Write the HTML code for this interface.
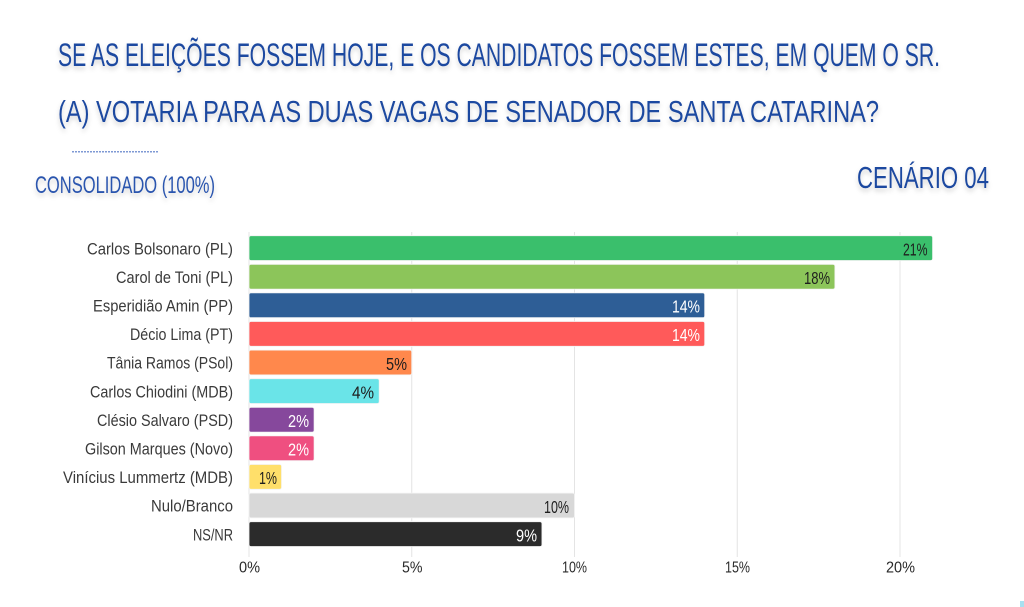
<!DOCTYPE html>
<html><head><meta charset="utf-8"><style>
html,body{margin:0;padding:0;background:#fff;width:1024px;height:607px;overflow:hidden}
svg{display:block}
</style></head><body>
<svg width="1024" height="607" viewBox="0 0 1024 607" xmlns="http://www.w3.org/2000/svg" font-family="'Liberation Sans', sans-serif">
<defs>
<filter id="sh" x="-5%" y="-40%" width="110%" height="180%">
<feDropShadow dx="0" dy="3" stdDeviation="2.5" flood-color="#000" flood-opacity="0.18"/>
</filter>
</defs>
<rect width="1024" height="607" fill="#fff"/>
<g fill="#1f48a0" filter="url(#sh)">
<text x="58" y="66" font-size="32" textLength="882" lengthAdjust="spacingAndGlyphs">SE AS ELEIÇÕES FOSSEM HOJE, E OS CANDIDATOS FOSSEM ESTES, EM QUEM O SR.</text>
<text x="58" y="122" font-size="31" textLength="821" lengthAdjust="spacingAndGlyphs">(A) VOTARIA PARA AS DUAS VAGAS DE SENADOR DE SANTA CATARINA?</text>
<text x="35" y="193" font-size="24" fill="#2a54ae" textLength="180" lengthAdjust="spacingAndGlyphs">CONSOLIDADO (100%)</text>
<text x="857" y="188" font-size="31" textLength="132" lengthAdjust="spacingAndGlyphs">CENÁRIO 04</text>
</g>
<line x1="72" y1="151.7" x2="158" y2="151.7" stroke="#7f9ad4" stroke-width="1.5" stroke-dasharray="2,1"/>

<!-- gridlines -->
<g stroke="#e4e4e4" stroke-width="1">
<line x1="249" y1="232" x2="249" y2="557"/>
<line x1="411.75" y1="232" x2="411.75" y2="557"/>
<line x1="574.5" y1="232" x2="574.5" y2="557"/>
<line x1="737.25" y1="232" x2="737.25" y2="557"/>
<line x1="900" y1="232" x2="900" y2="557"/>
</g>

<!-- bars -->
<g stroke="#f4f4f4" stroke-width="0.8">
<rect x="249" y="235.7" width="683.6" height="24.8" rx="2" fill="#3abf6c"/>
<rect x="249" y="264.3" width="585.9" height="24.8" rx="2" fill="#8cc55a"/>
<rect x="249" y="292.9" width="455.7" height="24.8" rx="2" fill="#2e5e96"/>
<rect x="249" y="321.5" width="455.7" height="24.8" rx="2" fill="#ff5a5a"/>
<rect x="249" y="350.1" width="162.75" height="24.8" rx="2" fill="#ff884c"/>
<rect x="249" y="378.7" width="130.2" height="24.8" rx="2" fill="#6ae4e8"/>
<rect x="249" y="407.3" width="65.1" height="24.8" rx="2" fill="#86489c"/>
<rect x="249" y="435.9" width="65.1" height="24.8" rx="2" fill="#ef4f80"/>
<rect x="249" y="464.5" width="32.55" height="24.8" rx="2" fill="#ffdf6a"/>
<rect x="249" y="493.1" width="325.5" height="24.8" rx="2" fill="#d8d8d8"/>
<rect x="249" y="521.7" width="292.95" height="24.8" rx="2" fill="#2b2b2b"/>
</g>

<!-- category labels -->
<g fill="#3a3a3a" font-size="16.5" text-anchor="start">
<text x="87" y="254.3" textLength="146" lengthAdjust="spacingAndGlyphs">Carlos Bolsonaro (PL)</text>
<text x="116" y="282.9" textLength="117" lengthAdjust="spacingAndGlyphs">Carol de Toni (PL)</text>
<text x="93" y="311.5" textLength="140" lengthAdjust="spacingAndGlyphs">Esperidião Amin (PP)</text>
<text x="130" y="340.1" textLength="103" lengthAdjust="spacingAndGlyphs">Décio Lima (PT)</text>
<text x="107" y="368.7" textLength="126" lengthAdjust="spacingAndGlyphs">Tânia Ramos (PSol)</text>
<text x="90" y="397.3" textLength="143" lengthAdjust="spacingAndGlyphs">Carlos Chiodini (MDB)</text>
<text x="97" y="425.9" textLength="136" lengthAdjust="spacingAndGlyphs">Clésio Salvaro (PSD)</text>
<text x="85" y="454.5" textLength="148" lengthAdjust="spacingAndGlyphs">Gilson Marques (Novo)</text>
<text x="63" y="483.1" textLength="170" lengthAdjust="spacingAndGlyphs">Vinícius Lummertz (MDB)</text>
<text x="151" y="511.7" textLength="82" lengthAdjust="spacingAndGlyphs">Nulo/Branco</text>
<text x="193" y="540.3" textLength="40" lengthAdjust="spacingAndGlyphs">NS/NR</text>
</g>

<!-- value labels -->
<g font-size="17.5">
<text x="903" y="255.4" fill="#1e1e1e" textLength="24.5" lengthAdjust="spacingAndGlyphs">21%</text>
<text x="804" y="284" fill="#1e1e1e" textLength="26" lengthAdjust="spacingAndGlyphs">18%</text>
<text x="672" y="312.6" fill="#ffffff" textLength="28" lengthAdjust="spacingAndGlyphs">14%</text>
<text x="672" y="341.2" fill="#ffffff" textLength="28" lengthAdjust="spacingAndGlyphs">14%</text>
<text x="386" y="369.8" fill="#1e1e1e" textLength="21" lengthAdjust="spacingAndGlyphs">5%</text>
<text x="352" y="398.4" fill="#1e1e1e" textLength="22" lengthAdjust="spacingAndGlyphs">4%</text>
<text x="288" y="427" fill="#ffffff" textLength="21" lengthAdjust="spacingAndGlyphs">2%</text>
<text x="288" y="455.6" fill="#ffffff" textLength="21" lengthAdjust="spacingAndGlyphs">2%</text>
<text x="259" y="484.2" fill="#1e1e1e" textLength="18" lengthAdjust="spacingAndGlyphs">1%</text>
<text x="544" y="512.8" fill="#1e1e1e" textLength="25" lengthAdjust="spacingAndGlyphs">10%</text>
<text x="516" y="541.4" fill="#ffffff" textLength="21" lengthAdjust="spacingAndGlyphs">9%</text>
</g>

<!-- axis tick labels -->
<g fill="#2a2a2a" font-size="16">
<text x="239" y="572.7" textLength="21" lengthAdjust="spacingAndGlyphs">0%</text>
<text x="402" y="572.7" textLength="20.5" lengthAdjust="spacingAndGlyphs">5%</text>
<text x="562" y="572.7" textLength="25" lengthAdjust="spacingAndGlyphs">10%</text>
<text x="725" y="572.7" textLength="25" lengthAdjust="spacingAndGlyphs">15%</text>
<text x="886" y="572.7" textLength="29" lengthAdjust="spacingAndGlyphs">20%</text>
</g>

<rect x="1020" y="601" width="4" height="6" fill="#a8e0f0"/>
</svg>
</body></html>
